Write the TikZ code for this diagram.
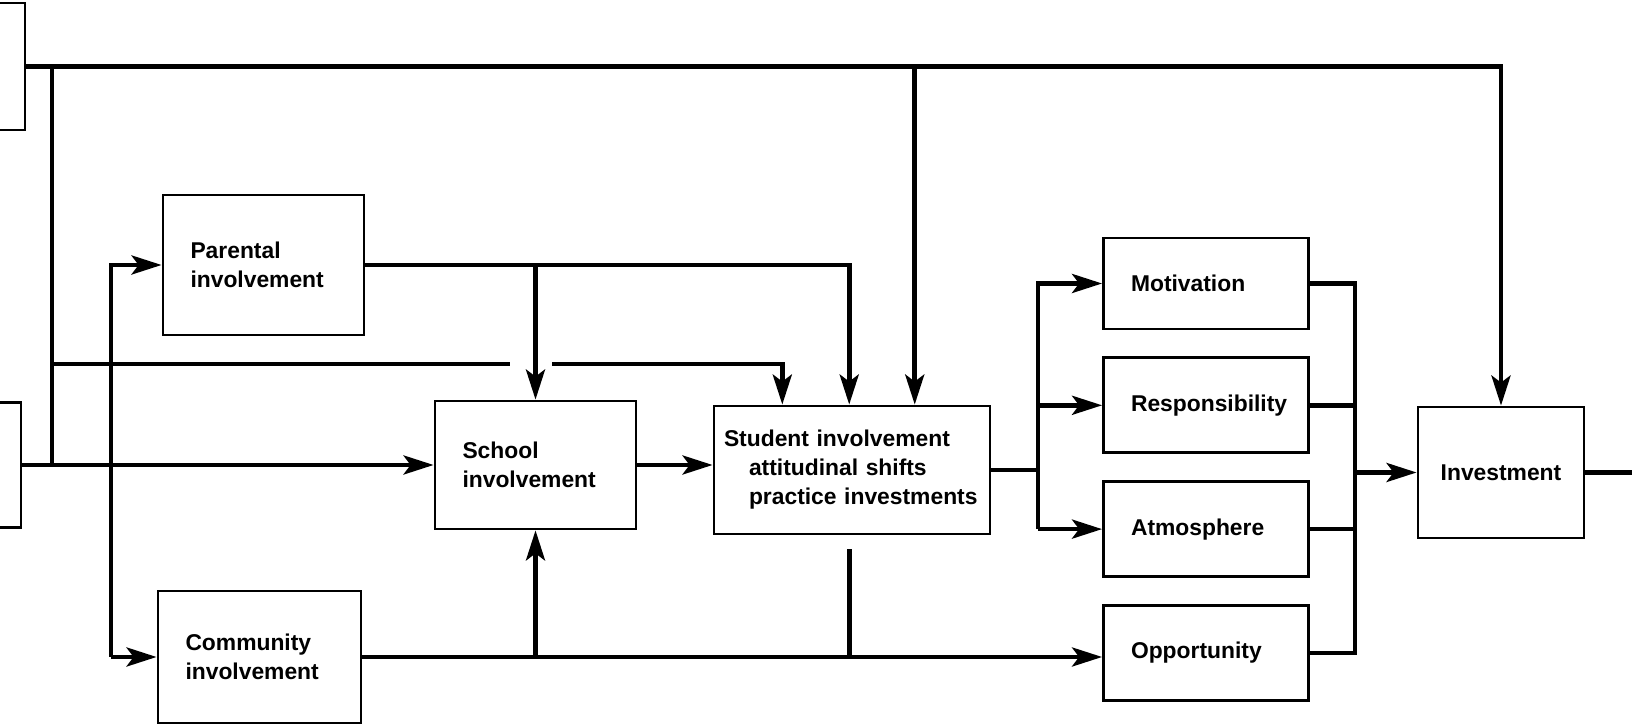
\documentclass[tikz,border=0pt]{standalone}
\usepackage{fontspec}
\setmainfont{Liberation Sans}
\usetikzlibrary{shapes, arrows.meta, positioning}
\usetikzlibrary{calc}

\begin{document}
\begin{tikzpicture}
  [
    Box/.style={draw=black, line width=1.6pt, inner xsep=0.55cm, inner ysep=0pt, align=left, font=\bfseries\fontsize{13}{16.5}\selectfont},
    Stub/.style={draw=black, line width=1.6pt},
    Line/.style={line width=2.6pt},
    Arrow/.style={Line, -{Stealth[length=6mm, width=3.8mm, inset=1.4mm]}}
  ]
  \useasboundingbox (0, 0) rectangle (32.64, 14.5);

  % Nodes
  \node[Stub, minimum width=1.7cm, minimum height=2.54cm] (in1) at (-0.35, 13.17) {};
  \node[Stub, minimum width=1.68cm, minimum height=2.5cm] (in2) at (-0.42, 5.2) {};

  \node[Box, text width=2.92cm, minimum height=2.8cm] (parent) at (5.27, 9.2) {Parental\\involvement};
  \node[Box, text width=2.92cm, minimum height=2.56cm] (school) at (10.71, 5.2) {School\\involvement};
  \node[Box, text width=2.96cm, minimum height=2.64cm] (community) at (5.19, 1.36) {Community\\involvement};
  \node[Box, inner xsep=0.2cm, text width=5.12cm, minimum height=2.56cm] (student) at (17.04, 5.1) {Student involvement\\\hspace{0.5cm}attitudinal shifts\\\hspace{0.5cm}practice investments};

  \node[Box, text width=3cm, minimum height=1.82cm] (motiv) at (24.12, 8.83) {Motivation};
  \node[Box, text width=3cm, minimum height=1.9cm, below=0.52cm of motiv] (respons) {Responsibility};
  \node[Box, text width=3cm, minimum height=1.9cm, below=0.52cm of respons] (atmos) {Atmosphere};
  \node[Box, text width=3cm, minimum height=1.9cm, below=0.52cm of atmos] (opport) {Opportunity};

  \node[Box, align=center, inner xsep=0.2cm, text width=2.92cm, minimum height=2.62cm] (invest) at (30.02, 5.05) {Investment};

  % Junctions
  \coordinate (j1) at (1.04, 0);
  \coordinate (v1) at (2.22, 0);
  \coordinate (f1) at (20.76, 0);
  \coordinate (f2) at (27.1, 0);
  \coordinate (out) at (32.8, 0);
  \coordinate (gapL) at (10.2, 7.22);
  \coordinate (gapR) at (11.04, 7.22);
  \coordinate (s1) at ($(student.north west)!0.25!(student.north east)$);
  \coordinate (s2) at ($(student.north west)!0.49!(student.north east)$);
  \coordinate (s3) at ($(student.north west)!0.725!(student.north east)$);
  \coordinate (c1) at ($(s2 |- student.south)+(0,-0.28)$);

  % Top feed
  \draw[Arrow] (in1.east) -| (invest.north);
  \draw[Arrow] (s3 |- in1.east) -- (s3);
  \draw[Line] (j1 |- in1.east) -- (j1 |- in2.east);
  \draw[Line] (j1 |- gapL) -- (gapL);
  \draw[Arrow] (gapR) -| (s1);

  % Left side
  \draw[Arrow] (in2.east) -- (school.west);
  \draw[Arrow] (v1 |- community.west) |- (parent.west);
  \draw[Arrow] (v1 |- community.west) -- (community.west);
  \draw[Arrow] (parent.east) -| (s2);
  \draw[Arrow] (parent.east -| school.north) -- (school.north);
  \draw[Arrow] (school.east) -- (school.east -| student.west);

  % Bottom feed
  \draw[Arrow] (community.east) -- (community.east -| opport.west);
  \draw[Arrow] (community.east -| school.south) -- (school.south);
  \draw[Line] (c1) -- (c1 |- community.east);

  % Fan out and in
  \draw[Line] (student.east) -- (student.east -| f1);
  \draw[Arrow] (f1 |- atmos.west) |- (motiv.west);
  \draw[Arrow] (f1 |- respons.west) -- (respons.west);
  \draw[Arrow] (f1 |- atmos.west) -- (atmos.west);
  \draw[Line] (motiv.east) -| (f2 |- opport.east) -- (opport.east);
  \draw[Line] (respons.east) -- (respons.east -| f2);
  \draw[Line] (atmos.east) -- (atmos.east -| f2);
  \draw[Arrow] (invest.west -| f2) -- (invest.west);
  \draw[Line] (invest.east) -- (invest.east -| out);

\end{tikzpicture}
\end{document}
